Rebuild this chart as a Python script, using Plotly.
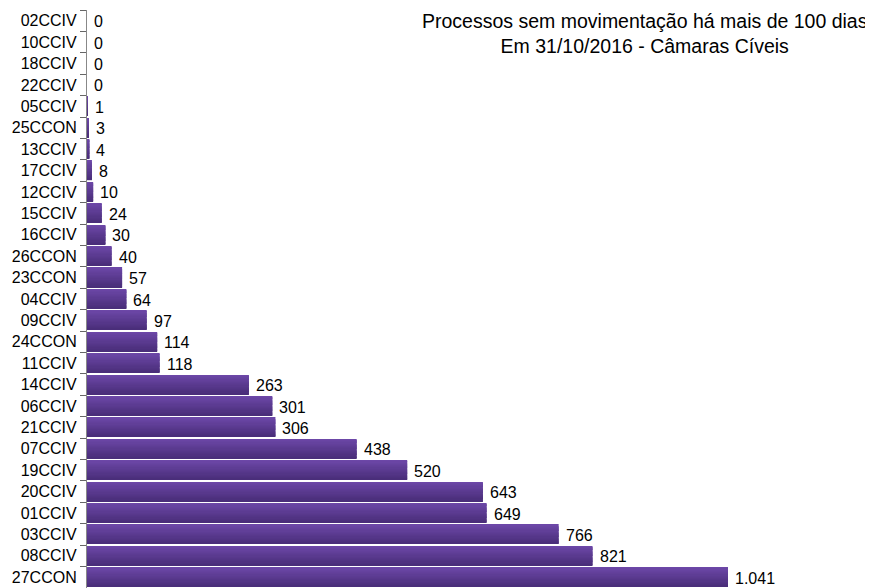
import plotly.graph_objects as go

categories = ["02CCIV", "10CCIV", "18CCIV", "22CCIV", "05CCIV", "25CCON", "13CCIV",
              "17CCIV", "12CCIV", "15CCIV", "16CCIV", "26CCON", "23CCON", "04CCIV",
              "09CCIV", "24CCON", "11CCIV", "14CCIV", "06CCIV", "21CCIV", "07CCIV",
              "19CCIV", "20CCIV", "01CCIV", "03CCIV", "08CCIV", "27CCON"]
values = [0, 0, 0, 0, 1, 3, 4, 8, 10, 24, 30, 40, 57, 64, 97, 114, 118, 263,
          301, 306, 438, 520, 643, 649, 766, 821, 1041]
value_labels = ["0", "0", "0", "0", "1", "3", "4", "8", "10", "24", "30", "40", "57",
                "64", "97", "114", "118", "263", "301", "306", "438", "520", "643",
                "649", "766", "821", "1.041"]

title_lines = ["Processos sem movimentação há mais de 100 dias",
               "Em 31/10/2016 - Câmaras Cíveis"]

FONT = "Arial, Liberation Sans, sans-serif"

# vertical gradient (top -> bottom)
top_rgb = (0x6c, 0x47, 0xa7)
bot_rgb = (0x4a, 0x2e, 0x7a)
n = 16
band_colors = []
for i in range(n):
    f = i / (n - 1)
    band_colors.append("rgb(%d,%d,%d)" % tuple(round(a + (b - a) * f) for a, b in zip(top_rgb, bot_rgb)))

fig = go.Figure()
bar_w = 0.9
bw = bar_w / n
for i, col in enumerate(band_colors):
    w = bw if i == n - 1 else bw * 1.6
    fig.add_trace(go.Bar(
        x=values, y=categories, orientation="h",
        width=w, offset=-bar_w / 2 + i * bw,
        marker=dict(color=col, line=dict(width=0)),
        hoverinfo="skip", showlegend=False,
    ))

for v, c, t in zip(values, categories, value_labels):
    fig.add_annotation(x=v, y=c, text=t, showarrow=False, xanchor="left",
                       xshift=5, yshift=-1,
                       font=dict(family=FONT, size=16, color="#000"))

fig.add_annotation(xref="paper", yref="paper", x=(637 - 79) / 786, y=1.0,
                   yshift=2, yanchor="top", xanchor="center",
                   text="<br>".join(title_lines), showarrow=False,
                   font=dict(family=FONT, size=19.5, color="#000"),
                   align="center")

# page body has an 8px default margin, so the figure is sized to the visible area
fig.update_layout(
    width=865, height=580,
    margin=dict(l=79, r=0, t=2, b=0),
    barmode="overlay",
    plot_bgcolor="white", paper_bgcolor="white",
    font=dict(family=FONT, size=16, color="#000"),
    xaxis=dict(range=[0, 1276.5], visible=False),
    yaxis=dict(range=[26.5, -0.5], type="category", automargin=False,
               showline=True, linecolor="#888", linewidth=1.2,
               ticks="outside", tickson="boundaries", ticklen=6, tickcolor="#666",
               tickwidth=1.2, ticklabelstandoff=6,
               showgrid=False, tickfont=dict(family=FONT, size=16, color="#000"),
               categoryorder="array", categoryarray=categories),
)

fig.write_html("out.html")
